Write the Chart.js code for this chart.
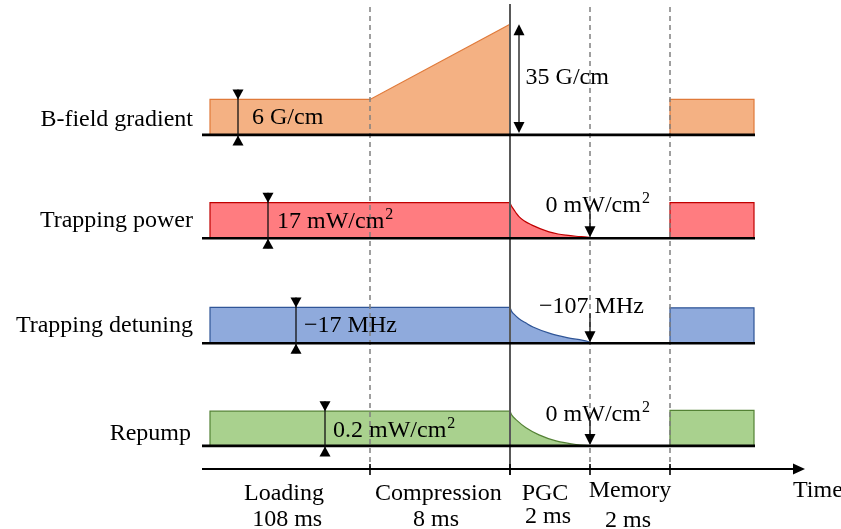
<!DOCTYPE html>
<html>
<head>
<meta charset="utf-8">
<style>
  html, body { margin: 0; padding: 0; background: #fff; }
  canvas { display: block; }
</style>
<script src="https://cdn.jsdelivr.net/npm/chart.js@4.4.0/dist/chart.umd.min.js"></script>
</head>
<body>
<canvas id="seq" width="841" height="529"></canvas>
<script>
// ---- Sequence description (schematic time units, display heights) ----
const phaseBounds = [0, 4, 7.5, 9.5, 11.5, 13.6];
const phaseNames = ['Loading', 'Compression', 'PGC', 'Memory'];
const phaseDurations = ['108 ms', '8 ms', '2 ms', '2 ms'];
const rowNames = ['B-field gradient', 'Trapping power', 'Trapping detuning', 'Repump'];

// B-field gradient: steady during loading, linear ramp during compression, off afterwards
const bFieldTime = [0, 0, 4, 7.5, 7.5];
const bFieldLevel = [0, 1, 1, 3.12, 0];
const bFieldReloadTime = [11.5, 11.5, 13.6, 13.6];
const bFieldReloadLevel = [0, 1, 1.0, 0];

// Trapping power: constant, then decays to zero during PGC
const powerTime = [0, 0, 7.5];
const powerLevel = [0, 1, 1];
const powerDecayTime = [7.5, 7.54, 7.6, 7.66, 7.725, 7.85, 8.05, 8.25, 8.475, 8.7, 8.9, 9.15, 9.425, 9.5];
const powerDecayLevel = [1, 0.9, 0.8, 0.7, 0.61, 0.49, 0.37, 0.27, 0.18, 0.12, 0.086, 0.055, 0.03, 0.02];
const powerReloadTime = [11.5, 11.5, 13.6, 13.6];
const powerReloadLevel = [0, 1, 1, 0];

// Trapping detuning: -17 MHz, swept out to -107 MHz during PGC
const detuningTime = [0, 0, 7.5];
const detuningLevel = [0, 1.01, 1.01];
const detuningDecayTime = [7.5, 7.54, 7.6, 7.725, 7.9, 8.075, 8.5, 8.925, 9.45, 9.5];
const detuningDecayLevel = [1.01, 0.9, 0.82, 0.69, 0.57, 0.46, 0.28, 0.16, 0.05, 0.03];
const detuningReloadTime = [11.5, 11.5, 13.6, 13.6];
const detuningReloadLevel = [0, 1.0, 1.0, 0];

// Repump: constant, then decays to zero during PGC
const repumpTime = [0, 0, 7.5];
const repumpLevel = [0, 0.98, 0.98];
const repumpDecayTime = [7.5, 7.55, 7.65, 7.9, 8.225, 8.65, 9.15, 9.5];
const repumpDecayLevel = [0.98, 0.86, 0.74, 0.51, 0.31, 0.14, 0.04, 0.01];
const repumpReloadTime = [11.5, 11.5, 13.6, 13.6];
const repumpReloadLevel = [0, 1.0, 1.0, 0];

// Value annotations
const loadingValueLabels = ['6 G/cm', '17 mW/cm', '\u221217 MHz', '0.2 mW/cm'];
const loadingValueSup = ['', '2', '', '2'];
const finalValueLabels = ['35 G/cm', '0 mW/cm', '\u2212107 MHz', '0 mW/cm'];
const finalValueSup = ['', '2', '', '2'];

// ---- Layout ----
const X_MIN = -5.25, X_MAX = 15.775;
const Y_MIN = -11.10, Y_MAX = 3.80;
const rowBase = [0, -2.91, -5.87, -8.76];
const axisBase = -9.41;

const fillColors = ['#F4B183', '#FF7C80', '#8FAADC', '#A9D18E'];
const edgeColors = ['#E07A3A', '#C00000', '#2F5597', '#548235'];

const rowParts = [
  [[bFieldTime, bFieldLevel, false], [bFieldReloadTime, bFieldReloadLevel, false]],
  [[powerTime, powerLevel, false], [powerDecayTime, powerDecayLevel, true], [powerReloadTime, powerReloadLevel, false]],
  [[detuningTime, detuningLevel, false], [detuningDecayTime, detuningDecayLevel, true], [detuningReloadTime, detuningReloadLevel, false]],
  [[repumpTime, repumpLevel, false], [repumpDecayTime, repumpDecayLevel, true], [repumpReloadTime, repumpReloadLevel, false]]
];

const datasets = [];
rowParts.forEach((parts, r) => {
  parts.forEach(([times, levels, smooth]) => {
    datasets.push({
      data: times.map((t, i) => ({ x: t, y: rowBase[r] + levels[i] })),
      backgroundColor: fillColors[r],
      borderColor: edgeColors[r],
      borderWidth: 1.2,
      fill: { value: rowBase[r] },
      pointRadius: 0,
      tension: 0,
      cubicInterpolationMode: smooth ? 'monotone' : 'default'
    });
  });
});

const FONT = '"Liberation Serif", "Times New Roman", serif';

const overlay = {
  id: 'sequenceOverlay',
  afterDatasetsDraw(chart) {
    const ctx = chart.ctx;
    const xs = chart.scales.x, ys = chart.scales.y;
    const px = t => xs.getPixelForValue(t);
    const py = v => ys.getPixelForValue(v);
    const axisY = py(axisBase);
    ctx.save();

    // Phase separators
    ctx.lineCap = 'butt';
    [1, 3, 4].forEach(i => {
      ctx.strokeStyle = '#808080';
      ctx.lineWidth = 1.5;
      ctx.setLineDash([5, 4]);
      ctx.beginPath();
      ctx.moveTo(px(phaseBounds[i]), 7);
      ctx.lineTo(px(phaseBounds[i]), axisY);
      ctx.stroke();
    });
    ctx.setLineDash([]);
    ctx.strokeStyle = '#595959';
    ctx.lineWidth = 2;
    ctx.beginPath();
    ctx.moveTo(px(phaseBounds[2]), 4);
    ctx.lineTo(px(phaseBounds[2]), axisY + 6);
    ctx.stroke();

    // Row baselines
    ctx.strokeStyle = '#000';
    ctx.lineWidth = 2.6;
    rowBase.forEach(b => {
      ctx.beginPath();
      ctx.moveTo(px(-0.2), py(b));
      ctx.lineTo(px(13.625), py(b));
      ctx.stroke();
    });

    // Time axis with arrow head and phase ticks
    ctx.lineWidth = 2;
    ctx.beginPath();
    ctx.moveTo(px(-0.2), axisY);
    ctx.lineTo(px(14.6), axisY);
    ctx.stroke();
    ctx.fillStyle = '#000';
    ctx.beginPath();
    ctx.moveTo(px(14.875), axisY);
    ctx.lineTo(px(14.875) - 12, axisY - 5.5);
    ctx.lineTo(px(14.875) - 12, axisY + 5.5);
    ctx.closePath();
    ctx.fill();
    ctx.lineWidth = 1.6;
    [1, 2, 3, 4].forEach(i => {
      ctx.beginPath();
      ctx.moveTo(px(phaseBounds[i]), axisY - 5);
      ctx.lineTo(px(phaseBounds[i]), axisY + 6);
      ctx.stroke();
    });

    // Arrow helpers
    const tri = (x, tipY, dir, w, h) => {
      ctx.beginPath();
      ctx.moveTo(x, tipY);
      ctx.lineTo(x - w, tipY - dir * h);
      ctx.lineTo(x + w, tipY - dir * h);
      ctx.closePath();
      ctx.fill();
    };
    const vline = (x, y1, y2) => {
      ctx.beginPath();
      ctx.moveTo(x, y1);
      ctx.lineTo(x, y2);
      ctx.stroke();
    };
    ctx.strokeStyle = '#111';
    ctx.fillStyle = '#000';
    ctx.lineWidth = 1.3;

    // Inward level markers on the loading plateau
    const markerTimes = [0.7, 1.45, 2.15, 2.875];
    const plateau = [bFieldLevel[1], powerLevel[1], detuningLevel[1], repumpLevel[1]];
    markerTimes.forEach((t, r) => {
      const x = px(t);
      const yTop = py(rowBase[r] + plateau[r]);
      const yBot = py(rowBase[r]);
      vline(x, yTop - 10, yBot + 10);
      tri(x, yTop, 1, 5.5, 10);
      tri(x, yBot + 0.5, -1, 5.5, 10);
    });

    // Outward marker for the compression peak
    {
      const x = px(7.725);
      const yTop = py(rowBase[0] + bFieldLevel[3]);
      const yBot = py(rowBase[0]) - 2;
      vline(x, yTop + 5, yBot - 5);
      tri(x, yTop, -1, 5.5, 11);
      tri(x, yBot, 1, 5.5, 11);
    }

    // Final-value arrows at the end of PGC
    const finalArrowStart = [0, 0.78, 0.85, 0.73];
    [1, 2, 3].forEach(r => {
      const x = px(phaseBounds[3]);
      const y1 = py(rowBase[r] + finalArrowStart[r]);
      const y2 = py(rowBase[r]) - 1;
      vline(x, y1, y2 - 5);
      tri(x, y2, 1, 5.5, 11);
    });

    // Text helpers
    ctx.fillStyle = '#000';
    ctx.textBaseline = 'alphabetic';
    const text = (str, x, y, align, sup) => {
      ctx.font = '24px ' + FONT;
      ctx.textAlign = align;
      ctx.fillText(str, x, y);
      if (sup) {
        const w = ctx.measureText(str).width;
        ctx.font = '16px ' + FONT;
        ctx.textAlign = 'left';
        ctx.fillText(sup, x + w + 1, y - 9);
      }
    };

    // Row titles
    const titleRight = [-0.425, -0.425, -0.425, -0.475];
    const titleLift = [0.25, 0.33, 0.33, 0.17];
    rowNames.forEach((name, r) => text(name, px(titleRight[r]), py(rowBase[r] + titleLift[r]), 'right'));

    // Value labels
    const loadLabelT = [1.05, 1.675, 2.35, 3.075];
    const loadLabelLift = [0.31, 0.28, 0.33, 0.26];
    const finalLabelT = [7.89, 8.39, 8.225, 8.39];
    const finalLabelLift = [1.44, 0.75, 0.86, 0.70];
    rowNames.forEach((_, r) => {
      text(loadingValueLabels[r], px(loadLabelT[r]), py(rowBase[r] + loadLabelLift[r]), 'left', loadingValueSup[r]);
      text(finalValueLabels[r], px(finalLabelT[r]), py(rowBase[r] + finalLabelLift[r]), 'left', finalValueSup[r]);
    });

    // Phase names and durations below the time axis
    const nameCenter = [1.85, 5.71, 8.375, 10.5];
    const nameDrop = [31, 31, 31, 28];
    const durCenter = [1.93, 5.65, 8.45, 10.45];
    const durDrop = [57, 57, 54, 58];
    phaseNames.forEach((n, i) => {
      text(n, px(nameCenter[i]), axisY + nameDrop[i], 'center');
      text(phaseDurations[i], px(durCenter[i]), axisY + durDrop[i], 'center');
    });
    text('Time', px(14.575), axisY + 28, 'left');

    ctx.restore();
  }
};

new Chart(document.getElementById('seq'), {
  type: 'line',
  data: { datasets },
  options: {
    responsive: false,
    animation: false,
    devicePixelRatio: 1,
    events: [],
    layout: { padding: 0 },
    plugins: { legend: { display: false }, tooltip: { enabled: false }, title: { display: false } },
    scales: {
      x: { type: 'linear', min: X_MIN, max: X_MAX, display: false },
      y: { type: 'linear', min: Y_MIN, max: Y_MAX, display: false }
    }
  },
  plugins: [overlay]
});
</script>
</body>
</html>
